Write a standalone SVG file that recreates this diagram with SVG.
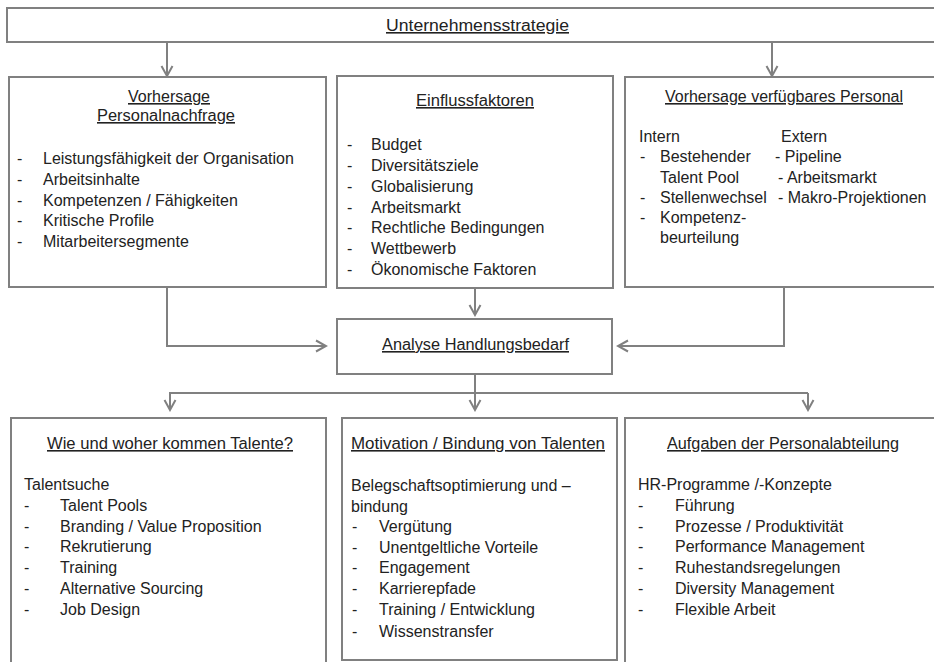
<svg xmlns="http://www.w3.org/2000/svg" width="934" height="662" viewBox="0 0 934 662">
<style>
.box{fill:#fff;stroke:#808080;stroke-width:2}
.con{fill:none;stroke:#808080;stroke-width:2}
text{font-family:"Liberation Sans",Arial,sans-serif;font-size:16px;fill:#222}
.t{text-anchor:middle;text-decoration:underline}
</style>
<defs>
<marker id="ah" markerUnits="userSpaceOnUse" markerWidth="14" markerHeight="14" viewBox="0 0 14 14" refX="12" refY="7" orient="auto">
<path d="M2,1.5 L12,7 L2,12.5" fill="none" stroke="#808080" stroke-width="2"/>
</marker>
</defs>
<rect width="934" height="662" fill="#fff"/>
<g id="connectors">
<line class="con" x1="167" y1="42" x2="167" y2="76" marker-end="url(#ah)"/>
<line class="con" x1="772" y1="42" x2="772" y2="76" marker-end="url(#ah)"/>
<polyline class="con" points="167,287 167,346 326,346" marker-end="url(#ah)"/>
<line class="con" x1="475" y1="289" x2="475" y2="315" marker-end="url(#ah)"/>
<polyline class="con" points="784,287 784,346 618,346" marker-end="url(#ah)"/>
<line class="con" x1="475" y1="374" x2="475" y2="393"/>
<line class="con" x1="169" y1="393" x2="808" y2="393"/>
<line class="con" x1="170" y1="393" x2="170" y2="410" marker-end="url(#ah)"/>
<line class="con" x1="475" y1="393" x2="475" y2="410" marker-end="url(#ah)"/>
<line class="con" x1="808" y1="393" x2="808" y2="410" marker-end="url(#ah)"/>
</g>
<g id="unternehmensstrategie">
<rect class="box" x="7" y="8" width="940" height="34"/>
<text class="t" x="477.5" y="31" textLength="183" lengthAdjust="spacingAndGlyphs">Unternehmensstrategie</text>
</g>
<g id="personalnachfrage">
<rect class="box" x="9" y="77" width="317" height="210"/>
<text class="t" x="169" y="102" textLength="82" lengthAdjust="spacingAndGlyphs">Vorhersage</text>
<text class="t" x="166" y="121" textLength="138" lengthAdjust="spacingAndGlyphs">Personalnachfrage</text>
<text x="17" y="164">-</text><text x="43" y="164">Leistungsfähigkeit der Organisation</text>
<text x="17" y="185">-</text><text x="43" y="185">Arbeitsinhalte</text>
<text x="17" y="206">-</text><text x="43" y="206">Kompetenzen / Fähigkeiten</text>
<text x="17" y="226">-</text><text x="43" y="226">Kritische Profile</text>
<text x="17" y="247">-</text><text x="43" y="247">Mitarbeitersegmente</text>
</g>
<g id="einflussfaktoren">
<rect class="box" x="337" y="76" width="276" height="212"/>
<text class="t" x="475" y="106" textLength="118" lengthAdjust="spacingAndGlyphs">Einflussfaktoren</text>
<text x="347" y="150">-</text><text x="371" y="150">Budget</text>
<text x="347" y="171">-</text><text x="371" y="171">Diversitätsziele</text>
<text x="347" y="192">-</text><text x="371" y="192">Globalisierung</text>
<text x="347" y="213">-</text><text x="371" y="213">Arbeitsmarkt</text>
<text x="347" y="233">-</text><text x="371" y="233">Rechtliche Bedingungen</text>
<text x="347" y="254">-</text><text x="371" y="254">Wettbewerb</text>
<text x="347" y="275">-</text><text x="371" y="275">Ökonomische Faktoren</text>
</g>
<g id="verfuegbares-personal">
<rect class="box" x="625" y="77" width="320" height="210"/>
<text class="t" x="784" y="102" textLength="238" lengthAdjust="spacingAndGlyphs">Vorhersage verfügbares Personal</text>
<text x="639" y="142">Intern</text>
<text x="781" y="142">Extern</text>
<text x="640" y="162">-</text><text x="660" y="162">Bestehender</text>
<text x="660" y="183">Talent Pool</text>
<text x="640" y="203">-</text><text x="660" y="203">Stellenwechsel</text>
<text x="640" y="223">-</text><text x="660" y="223">Kompetenz-</text>
<text x="660" y="243">beurteilung</text>
<text x="775" y="162">- Pipeline</text>
<text x="778" y="183">- Arbeitsmarkt</text>
<text x="778" y="203">- Makro-Projektionen</text>
</g>
<g id="analyse">
<rect class="box" x="337" y="319" width="275" height="55"/>
<text class="t" x="475.5" y="350" textLength="187" lengthAdjust="spacingAndGlyphs">Analyse Handlungsbedarf</text>
</g>
<g id="talente">
<rect class="box" x="11" y="418" width="315" height="260"/>
<text class="t" x="170" y="449" textLength="246" lengthAdjust="spacingAndGlyphs">Wie und woher kommen Talente?</text>
<text x="24" y="490">Talentsuche</text>
<text x="24" y="511">-</text><text x="60" y="511">Talent Pools</text>
<text x="24" y="532">-</text><text x="60" y="532">Branding / Value Proposition</text>
<text x="24" y="552">-</text><text x="60" y="552">Rekrutierung</text>
<text x="24" y="573">-</text><text x="60" y="573">Training</text>
<text x="24" y="594">-</text><text x="60" y="594">Alternative Sourcing</text>
<text x="24" y="615">-</text><text x="60" y="615">Job Design</text>
</g>
<g id="motivation">
<rect class="box" x="342" y="418" width="275" height="242"/>
<text class="t" x="478" y="449" textLength="254" lengthAdjust="spacingAndGlyphs">Motivation / Bindung von Talenten</text>
<text x="351" y="491">Belegschaftsoptimierung und –</text>
<text x="351" y="512">bindung</text>
<text x="352" y="532">-</text><text x="379" y="532">Vergütung</text>
<text x="352" y="553">-</text><text x="379" y="553">Unentgeltliche Vorteile</text>
<text x="352" y="573">-</text><text x="379" y="573">Engagement</text>
<text x="352" y="594">-</text><text x="379" y="594">Karrierepfade</text>
<text x="352" y="615">-</text><text x="379" y="615">Training / Entwicklung</text>
<text x="352" y="637">-</text><text x="379" y="637">Wissenstransfer</text>
</g>
<g id="personalabteilung">
<rect class="box" x="625" y="418" width="320" height="260"/>
<text class="t" x="783" y="449" textLength="232" lengthAdjust="spacingAndGlyphs">Aufgaben der Personalabteilung</text>
<text x="638" y="490">HR-Programme /-Konzepte</text>
<text x="638" y="511">-</text><text x="675" y="511">Führung</text>
<text x="638" y="532">-</text><text x="675" y="532">Prozesse / Produktivität</text>
<text x="638" y="552">-</text><text x="675" y="552">Performance Management</text>
<text x="638" y="573">-</text><text x="675" y="573">Ruhestandsregelungen</text>
<text x="638" y="594">-</text><text x="675" y="594">Diversity Management</text>
<text x="638" y="615">-</text><text x="675" y="615">Flexible Arbeit</text>
</g>
</svg>
